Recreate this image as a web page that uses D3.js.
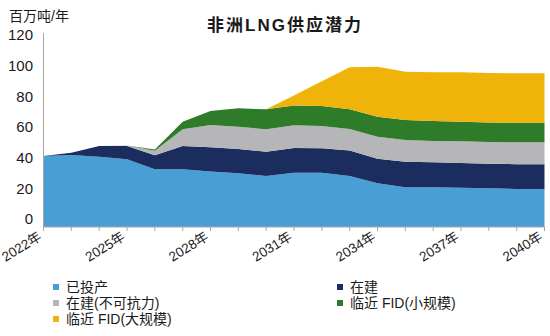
<!DOCTYPE html>
<html>
<head>
<meta charset="utf-8">
<script src="https://cdn.jsdelivr.net/npm/d3@7"></script>
<style>
  html, body { margin: 0; padding: 0; background: #fff; }
  svg { display: block; }
  text { font-family: "Liberation Sans", "Noto Sans CJK SC", sans-serif; fill: #1a1a1a; }
</style>
</head>
<body>
<svg id="chart" width="550" height="336"></svg>
<script>
// ---- data ----
const years = [2022,2023,2024,2025,2026,2027,2028,2029,2030,2031,2032,2033,2034,2035,2036,2037,2038,2039,2040];
const seriesNames = ["已投产", "在建", "在建(不可抗力)", "临近 FID(小规模)", "临近 FID(大规模)"];
const operating   = [41.1,41.7,40.6,38.9,32.5,32.4,30.9,29.8,28.0,30.2,30.2,28.0,23.3,20.7,20.7,20.4,20.0,19.6,19.6];
const underConstr = [0,1.5,7.0,8.7,9.0,15.2,15.9,15.9,15.9,16.1,15.9,16.6,16.0,16.7,16.3,16.1,16.1,16.1,16.1];
const forceMajeure= [0,0,0,0.3,3.0,10.9,14.5,14.5,14.6,14.8,14.6,14.1,14.4,14.1,13.9,14.2,14.1,14.3,14.3];
const nearFidSmall= [0,0,0,0,0.8,5.0,9.1,12.0,13.0,13.0,13.0,12.8,13.0,13.1,13.0,12.8,12.8,12.8,12.8];
const nearFidLarge= [0,0,0,0,0,0,0,0,0,6.5,16.2,27.4,32.6,31.5,31.8,32.2,32.2,32.2,32.2];
const yTicks = [0,20,40,60,80,100,120];
const xLabelYears = [2022,2025,2028,2031,2034,2037,2040];
const colors = ["#4a9ed6", "#1b2c5f", "#b6b5b7", "#2e7b29", "#efb30a"];

const title = "非洲LNG供应潜力";
const unit = "百万吨/年";

// ---- build ----
const keys = ["a","b","c","d","e"];
const rows = years.map((yr, i) => ({
  year: yr, a: operating[i], b: underConstr[i], c: forceMajeure[i], d: nearFidSmall[i], e: nearFidLarge[i]
}));
const stacked = d3.stack().keys(keys)(rows);

const svg = d3.select("#chart");
const x = d3.scaleLinear().domain([2022, 2040]).range([43.5, 544.5]);
const y = d3.scaleLinear().domain([0, 120]).range([219, 35]);
const plotBottom = 227, plotTop = 33;

// areas
const areaGen = (idx) => d3.area()
  .x(d => x(d.data.year))
  .y0(d => idx === 0 ? plotBottom : y(d[0]))
  .y1(d => y(d[1]));

svg.append("g").selectAll("path")
  .data(stacked)
  .join("path")
  .attr("d", (s, i) => areaGen(i)(s))
  .attr("fill", (s, i) => colors[i]);

// y axis line
svg.append("line").attr("x1", 43.5).attr("x2", 43.5).attr("y1", plotTop).attr("y2", plotBottom)
  .attr("stroke", "#a6a6a6").attr("stroke-width", 1);
// x axis line
svg.append("line").attr("x1", 43.5).attr("x2", 545).attr("y1", plotBottom).attr("y2", plotBottom)
  .attr("stroke", "#a6a6a6").attr("stroke-width", 1);

// x ticks
svg.append("g").selectAll("line")
  .data(years)
  .join("line")
  .attr("x1", d => x(d)).attr("x2", d => x(d))
  .attr("y1", plotBottom).attr("y2", plotBottom + 4)
  .attr("stroke", "#a6a6a6");

// y tick labels
svg.append("g").selectAll("text")
  .data(yTicks)
  .join("text")
  .attr("x", 33)
  .attr("y", d => y(d))
  .attr("dy", "0.36em")
  .attr("text-anchor", "end")
  .attr("font-size", 15)
  .text(d => d);

// x labels
svg.append("g").selectAll("text")
  .data(xLabelYears)
  .join("text")
  .attr("text-anchor", "end")
  .attr("font-size", 13.5)
  .attr("transform", d => `translate(${x(d) - 1},${239}) rotate(-32)`)
  .text(d => d + "年");

// unit label
svg.append("text").attr("x", 9).attr("y", 21).attr("font-size", 14).text(unit);

// title
svg.append("text").attr("x", 285).attr("y", 31).attr("text-anchor", "middle")
  .attr("font-size", 17).attr("font-weight", "bold").attr("letter-spacing", 2)
  .attr("font-family", "'Noto Sans CJK SC', sans-serif")
  .text(title);

// legend
const legendPos = [[53, 287], [337, 287], [53, 303], [337, 303], [53, 319]];
const lg = svg.append("g").selectAll("g")
  .data(seriesNames)
  .join("g")
  .attr("transform", (d, i) => `translate(${legendPos[i][0]},${legendPos[i][1]})`);
lg.append("rect").attr("x", 0).attr("y", -3).attr("width", 6).attr("height", 6)
  .attr("fill", (d, i) => colors[i]);
lg.append("text").attr("x", 13).attr("y", 0).attr("dy", "0.36em").attr("font-size", 14)
  .text(d => d);
</script>
</body>
</html>
